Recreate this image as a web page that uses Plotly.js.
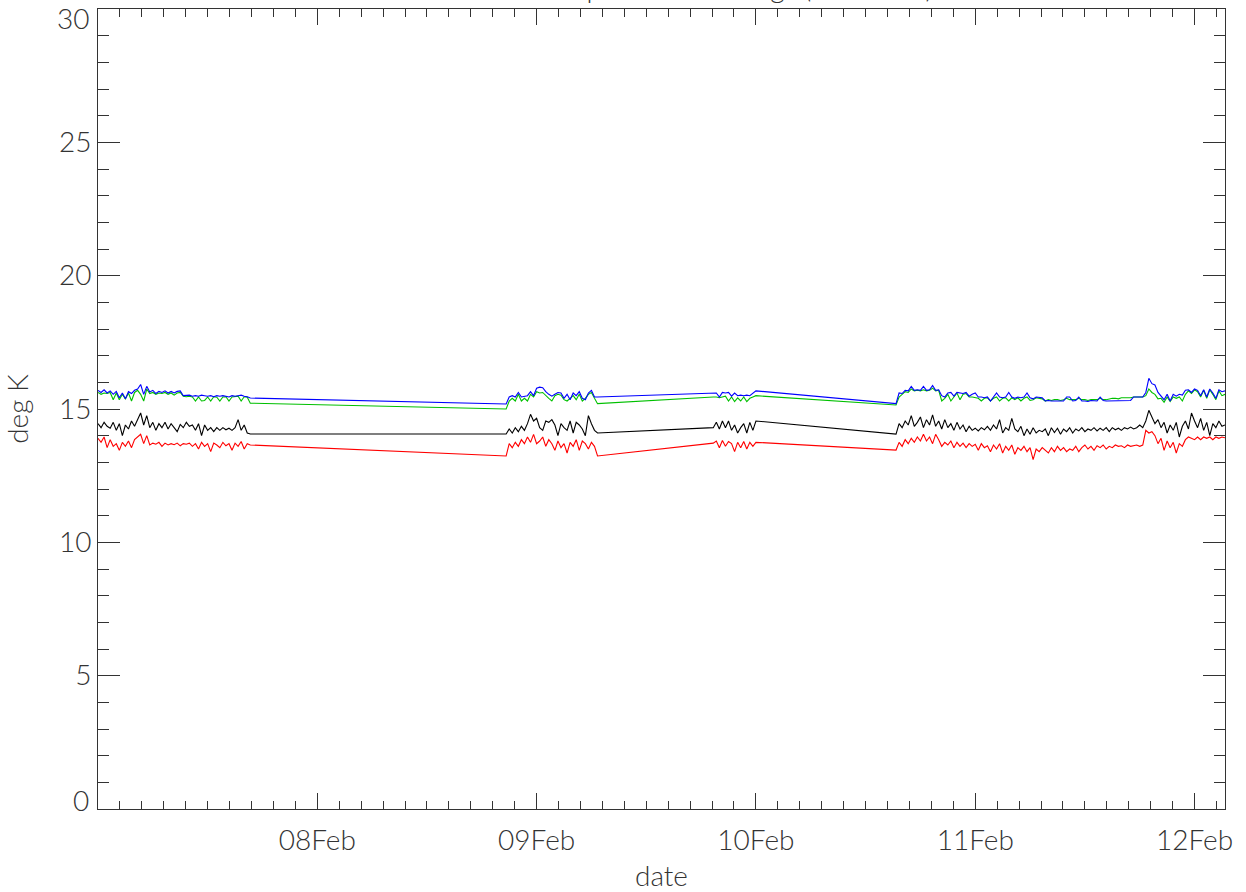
<!DOCTYPE html>
<html>
<head>
<meta charset="utf-8">
<script src="https://cdn.plot.ly/plotly-3.0.1.min.js"></script>
<style>html,body{margin:0;padding:0;background:#fff;}#chart{width:1246px;height:892px;}</style>
</head>
<body>
<div id="chart"></div>
<script>
// Segment start times (samples every 20 minutes within each segment)
const segStarts = ['2013-02-07 00:00', '2013-02-08 20:40', '2013-02-09 19:20', '2013-02-10 15:20'];
const sampleMinutes = 20;

// Blue series (deg K)
const blue1 = [15.70,15.62,15.72,15.60,15.68,15.55,15.66,15.42,15.60,15.38,15.65,15.58,15.70,15.75,15.92,15.55,15.85,15.64,15.70,15.58,15.66,15.62,15.68,15.60,15.66,15.60,15.66,15.68,15.50,15.50,15.52,15.48,15.50,15.48,15.52,15.50,15.48,15.50,15.46,15.50,15.48,15.50,15.48,15.45,15.50,15.48,15.50,15.52,15.48,15.46,15.41];
const blue2 = [15.19,15.45,15.50,15.45,15.62,15.45,15.48,15.50,15.65,15.50,15.78,15.82,15.80,15.65,15.55,15.48,15.55,15.62,15.60,15.40,15.55,15.35,15.60,15.50,15.65,15.40,15.35,15.60,15.70,15.45,15.45];
const blue3 = [15.62,15.60,15.45,15.62,15.60,15.62,15.48,15.60,15.50,15.52,15.50,15.52,15.50,15.58,15.68];
const blue4 = [15.20,15.60,15.58,15.70,15.68,15.85,15.70,15.72,15.70,15.85,
  15.70,15.72,15.88,15.70,15.72,15.50,15.45,15.60,15.62,15.48,
  15.62,15.60,15.58,15.62,15.48,15.55,15.60,15.45,15.45,15.42,
  15.45,15.30,15.45,15.60,15.45,15.42,15.45,15.62,15.45,15.40,
  15.45,15.42,15.45,15.60,15.42,15.38,15.45,15.44,15.42,15.30,
  15.32,15.30,15.30,15.32,15.30,15.30,15.45,15.45,15.30,15.32,
  15.45,15.30,15.30,15.28,15.32,15.30,15.30,15.45,15.32,15.30,
  15.30,15.32,15.30,15.30,15.32,15.30,15.30,15.32,15.45,15.45,
  15.45,15.45,15.62,16.15,15.95,15.90,15.62,15.50,15.35,15.55,
  15.30,15.55,15.48,15.55,15.52,15.70,15.72,15.62,15.75,15.70,
  15.50,15.72,15.45,15.75,15.60,15.40,15.72,15.65,15.68];

// Green series (deg K)
const green1 = [15.62,15.55,15.60,15.58,15.62,15.35,15.60,15.35,15.55,15.38,15.60,15.30,15.62,15.70,15.55,15.30,15.75,15.58,15.62,15.55,15.60,15.58,15.62,15.55,15.60,15.52,15.60,15.62,15.48,15.46,15.48,15.45,15.30,15.45,15.30,15.32,15.45,15.30,15.46,15.44,15.30,15.45,15.46,15.30,15.45,15.46,15.48,15.30,15.46,15.44,15.22];
const green2 = [15.00,15.30,15.40,15.30,15.55,15.30,15.40,15.30,15.55,15.45,15.65,15.60,15.62,15.50,15.40,15.30,15.50,15.55,15.52,15.35,15.30,15.40,15.50,15.35,15.55,15.30,15.40,15.55,15.62,15.40,15.20];
const green3 = [15.45,15.45,15.42,15.45,15.48,15.30,15.45,15.28,15.42,15.30,15.45,15.28,15.40,15.45,15.50];
const green4 = [15.15,15.45,15.55,15.65,15.62,15.75,15.68,15.70,15.68,15.72,
  15.68,15.70,15.78,15.68,15.70,15.30,15.40,15.55,15.30,15.45,
  15.60,15.35,15.55,15.58,15.45,15.45,15.42,15.40,15.30,15.40,
  15.42,15.30,15.40,15.45,15.30,15.40,15.42,15.30,15.42,15.35,
  15.42,15.30,15.40,15.45,15.32,15.35,15.42,15.40,15.38,15.30,
  15.35,15.32,15.35,15.35,15.32,15.35,15.40,15.35,15.35,15.35,
  15.40,15.35,15.35,15.32,15.35,15.35,15.35,15.40,15.35,15.35,
  15.38,15.40,15.40,15.38,15.42,15.42,15.42,15.42,15.45,15.45,
  15.45,15.45,15.50,15.75,15.62,15.55,15.38,15.40,15.25,15.45,
  15.28,15.45,15.40,15.45,15.30,15.55,15.68,15.58,15.72,15.65,
  15.45,15.70,15.40,15.72,15.55,15.35,15.68,15.50,15.55];

// Black series (deg K)
const black1 = [14.45,14.30,14.50,14.35,14.28,14.50,14.20,14.45,14.00,14.40,14.25,14.55,14.35,14.60,14.85,14.40,14.75,14.30,14.50,14.20,14.45,14.30,14.50,14.25,14.45,14.30,14.15,14.42,14.30,14.50,14.35,14.40,14.20,14.45,14.00,14.40,14.20,14.30,14.15,14.30,14.20,14.30,14.22,14.28,14.20,14.30,14.60,14.20,14.40,14.10,14.06];
const black2 = [14.06,14.25,14.10,14.30,14.15,14.35,14.20,14.45,14.80,14.55,14.65,14.30,14.20,14.55,14.50,14.60,14.40,14.00,14.45,14.30,14.20,14.55,14.10,14.50,14.40,14.25,14.00,14.75,14.45,14.20,14.10];
const black3 = [14.30,14.50,14.25,14.55,14.30,14.55,14.20,14.40,14.10,14.30,14.45,14.10,14.50,14.20,14.55];
const black4 = [14.06,14.45,14.30,14.55,14.40,14.75,14.35,14.50,14.70,14.30,
  14.60,14.40,14.78,14.35,14.55,14.25,14.60,14.30,14.45,14.20,
  14.50,14.25,14.40,14.15,14.35,14.20,14.28,14.18,14.30,14.22,
  14.35,14.20,14.40,14.25,14.60,14.10,14.30,14.20,14.65,14.25,
  14.15,14.35,14.00,14.25,14.05,14.30,14.10,14.20,14.15,14.25,
  14.00,14.30,14.12,14.28,14.05,14.25,14.15,14.30,14.10,14.25,
  14.18,14.30,14.15,14.25,14.20,14.30,14.18,14.28,14.20,14.30,
  14.15,14.30,14.22,14.28,14.20,14.30,14.25,14.32,14.25,14.30,
  14.40,14.30,14.55,14.95,14.70,14.45,14.60,14.30,14.50,14.10,
  14.40,14.20,14.50,13.95,14.35,14.55,14.25,14.85,14.55,14.30,
  14.65,14.20,14.50,14.00,14.45,14.30,14.55,14.35,14.40];

// Red series (deg K)
const red1 = [13.90,13.75,13.95,13.55,13.85,13.60,13.70,13.45,13.75,13.60,13.80,13.55,13.85,13.95,14.05,13.70,14.00,13.65,13.72,13.68,13.75,13.60,13.72,13.65,13.70,13.66,13.72,13.62,13.70,13.68,13.72,13.60,13.70,13.50,13.75,13.60,13.70,13.40,13.72,13.65,13.55,13.75,13.62,13.70,13.45,13.72,13.60,13.78,13.50,13.70,13.65];
const red2 = [13.24,13.70,13.55,13.75,13.60,13.85,13.70,13.95,13.75,14.05,13.70,13.80,13.95,13.60,13.85,13.70,13.45,13.80,13.55,13.70,13.35,13.75,13.60,13.85,13.45,13.80,13.70,13.50,13.75,13.60,13.24];
const red3 = [13.72,13.80,13.55,13.82,13.60,13.78,13.70,13.40,13.75,13.55,13.78,13.50,13.75,13.60,13.75];
const red4 = [13.46,13.75,13.60,13.85,13.70,13.90,13.75,13.95,13.80,14.05,
  13.80,13.95,13.70,14.05,13.85,13.60,13.75,13.65,13.80,13.55,
  13.75,13.60,13.72,13.55,13.70,13.60,13.68,13.45,13.70,13.55,
  13.62,13.40,13.65,13.50,13.70,13.35,13.60,13.45,13.65,13.30,
  13.55,13.45,13.60,13.40,13.55,13.10,13.50,13.40,13.55,13.45,
  13.35,13.55,13.40,13.60,13.45,13.55,13.40,13.50,13.45,13.60,
  13.40,13.55,13.65,13.50,13.60,13.45,13.62,13.55,13.65,13.50,
  13.60,13.55,13.65,13.60,13.62,13.55,13.65,13.60,13.62,13.65,
  13.60,13.65,14.20,14.10,14.15,14.00,13.70,13.90,13.45,13.80,
  13.55,13.75,13.35,13.70,13.60,13.85,13.95,13.90,13.85,13.95,
  13.85,13.95,13.90,13.95,13.85,13.95,13.90,13.95,13.92];

// Axis tick labels
const xTickVals = ['2013-02-08', '2013-02-09', '2013-02-10', '2013-02-11', '2013-02-12'];
const xTickText = ['08Feb', '09Feb', '10Feb', '11Feb', '12Feb'];
const yTickVals = [0, 5, 10, 15, 20, 25, 30];
const yTickText = ['', '5', '10', '15', '20', '25', ''];
// end labels drawn inside the axis span, as in the reference
const yEndLabels = [{v: 0, text: '0', shift: 9}, {v: 30, text: '30', shift: -9}];
// chart title (mostly above the top edge of the picture in the reference)
const titleText = 'Mean mixer temperature readings (4 sensors)';

function toStamp(ms) {
  return new Date(ms).toISOString().slice(0, 19).replace('T', ' ');
}
function segTimes(start, n) {
  const t0 = Date.parse(start.replace(' ', 'T') + ':00Z');
  const out = [];
  for (let i = 0; i < n; i++) out.push(toStamp(t0 + i * sampleMinutes * 60000));
  return out;
}
function buildSeries(segs) {
  let x = [], y = [];
  segs.forEach((vals, k) => {
    x = x.concat(segTimes(segStarts[k], vals.length));
    y = y.concat(vals);
  });
  return {x, y};
}

const series = [
  {name: 'green', segs: [green1, green2, green3, green4], color: '#00c000'},
  {name: 'blue', segs: [blue1, blue2, blue3, blue4], color: '#0000ff'},
  {name: 'black', segs: [black1, black2, black3, black4], color: '#000000'},
  {name: 'red', segs: [red1, red2, red3, red4], color: '#ff0000'}
];

const traces = series.map(s => {
  const d = buildSeries(s.segs);
  return {x: d.x, y: d.y, type: 'scatter', mode: 'lines', name: s.name,
          line: {color: s.color, width: 1.1}, hoverinfo: 'skip'};
});

const fontFam = 'Lato, "DejaVu Sans", sans-serif';
const textCol = '#333333';
const tf = {family: fontFam, size: 28, color: textCol, weight: 300};

const annotations = yEndLabels.map(l => ({
  text: l.text, xref: 'paper', x: 0, xanchor: 'right', xshift: -8,
  yref: 'y', y: l.v, yanchor: 'middle', yshift: l.shift,
  showarrow: false, font: tf, borderpad: 0
}));
annotations.push({
  text: titleText, xref: 'paper', x: 0.5, xanchor: 'center',
  yref: 'paper', y: 1, yanchor: 'bottom', yshift: 4,
  showarrow: false, font: tf, borderpad: 0
});

const layout = {
  width: 1246, height: 892,
  margin: {l: 98, r: 21, t: 9, b: 83},
  paper_bgcolor: '#ffffff', plot_bgcolor: '#ffffff',
  showlegend: false,
  font: tf,
  annotations: annotations,
  xaxis: {
    type: 'date',
    range: ['2013-02-07 00:00', '2013-02-12 03:20'],
    tickmode: 'array', tickvals: xTickVals, ticktext: xTickText,
    ticks: 'inside', ticklen: 16, tickwidth: 1, tickcolor: '#333',
    minor: {dtick: 8640000, tick0: '2013-02-07', ticks: 'inside', ticklen: 8, tickwidth: 1, tickcolor: '#333', showgrid: false},
    showline: true, linecolor: '#333', linewidth: 1, mirror: 'allticks',
    showgrid: false, zeroline: false,
    ticklabelstandoff: 6,
    tickfont: tf,
    title: {text: 'date', font: tf, standoff: 14}
  },
  yaxis: {
    range: [0, 30],
    tickmode: 'array', tickvals: yTickVals, ticktext: yTickText,
    ticks: 'inside', ticklen: 22, tickwidth: 1, tickcolor: '#333',
    minor: {dtick: 1, tick0: 0, ticks: 'inside', ticklen: 11, tickwidth: 1, tickcolor: '#333', showgrid: false},
    showline: true, linecolor: '#333', linewidth: 1, mirror: 'allticks',
    showgrid: false, zeroline: false,
    tickfont: tf,
    title: {text: 'deg K', font: tf, standoff: 22}
  }
};

Plotly.newPlot('chart', traces, layout, {displayModeBar: false, staticPlot: true});
</script>
</body>
</html>
